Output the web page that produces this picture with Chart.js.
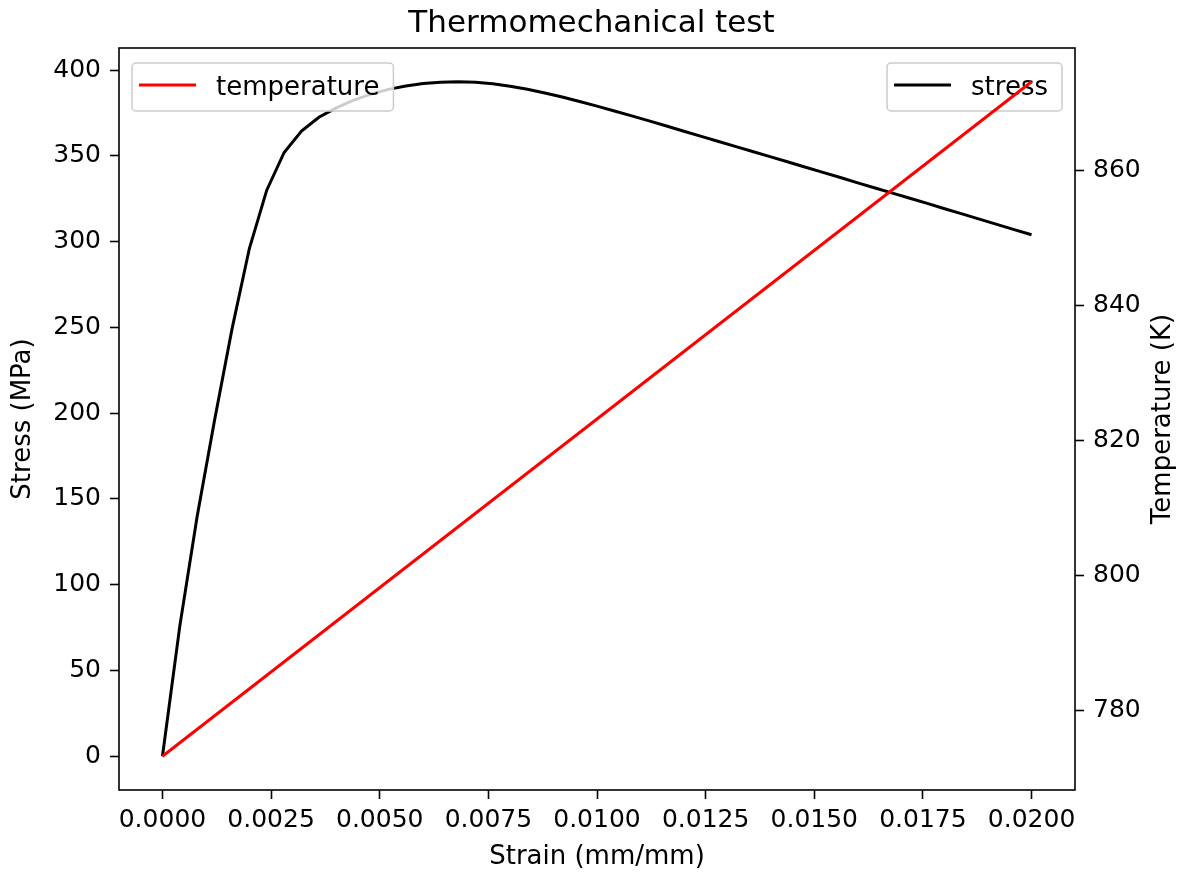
<!DOCTYPE html>
<html>
<head>
<meta charset="utf-8">
<title>Thermomechanical test</title>
<script src="https://cdn.jsdelivr.net/npm/chart.js@4.4.0/dist/chart.umd.min.js"></script>
<style>
  html, body { margin: 0; padding: 0; background: #fff; }
</style>
</head>
<body>
<canvas id="thermoChart" width="1183" height="875"></canvas>
<script>
// strain steps shared by the stress curve
const strain = [
  0.0000, 0.0004, 0.0008, 0.0012, 0.0016, 0.0020, 0.0024, 0.0028, 0.0032, 0.0036,
  0.0040, 0.0044, 0.0048, 0.0052, 0.0056, 0.0060, 0.0064, 0.0068, 0.0072, 0.0076,
  0.0080, 0.0084, 0.0088, 0.0092, 0.0096, 0.0100, 0.0104, 0.0108, 0.0112, 0.0116,
  0.0120, 0.0124, 0.0128, 0.0132, 0.0136, 0.0140, 0.0144, 0.0148, 0.0152, 0.0156,
  0.0160, 0.0164, 0.0168, 0.0172, 0.0176, 0.0180, 0.0184, 0.0188, 0.0192, 0.0196,
  0.0200
];
const stress = [
  0, 76, 140, 196, 249, 296, 330, 352, 364.5, 372.5,
  378, 382.5, 386, 388.8, 390.8, 392.2, 393, 393.2, 392.9, 392,
  390.6, 388.8, 386.7, 384.3, 381.7, 379, 376.2, 373.3, 370.4, 367.4,
  364.4, 361.4, 358.4, 355.4, 352.4, 349.4, 346.4, 343.4, 340.4, 337.4,
  334.3, 331.3, 328.3, 325.3, 322.3, 319.2, 316.2, 313.1, 310.1, 307.0,
  304.0
];
// temperature is a straight ramp, read at its two ends
const tempStrain = [0, 0.02];
const temperature = [773.15, 873.15];

const strainTicks = [0, 0.0025, 0.005, 0.0075, 0.01, 0.0125, 0.015, 0.0175, 0.02];
const stressTicks = [0, 50, 100, 150, 200, 250, 300, 350, 400];
const tempTicks = [780, 800, 820, 840, 860];

Chart.defaults.font.family = 'DejaVu Sans';
Chart.defaults.color = '#000';

const toPoints = (xs, ys) => xs.map((x, i) => ({ x: x, y: ys[i] }));

// matplotlib style legend box, one per axes
function drawLegend(chart, idx, side) {
  const { ctx, chartArea } = chart;
  const ds = chart.data.datasets[idx];
  ctx.save();
  ctx.font = '26px "DejaVu Sans"';
  const w = ctx.measureText(ds.label).width + 98;
  const h = 48;
  const left = side === 'left' ? chartArea.left + 13 : chartArea.right - 13 - w;
  const top = chartArea.top + 15;
  ctx.beginPath();
  ctx.roundRect(left, top, w, h, 4);
  ctx.fillStyle = 'rgba(255,255,255,0.8)';
  ctx.fill();
  ctx.lineWidth = 1.5;
  ctx.strokeStyle = '#cccccc';
  ctx.stroke();
  ctx.beginPath();
  ctx.moveTo(left + 7, top + 22);
  ctx.lineTo(left + 64, top + 22);
  ctx.lineWidth = 3;
  ctx.strokeStyle = ds.borderColor;
  ctx.stroke();
  ctx.fillStyle = '#000';
  ctx.textBaseline = 'alphabetic';
  ctx.textAlign = 'left';
  ctx.fillText(ds.label, left + 84, top + 32);
  ctx.restore();
}

const mplLegends = {
  id: 'mplLegends',
  afterDatasetDraw(chart, args) {
    // stress legend sits under the twin axes' red line
    if (args.index === 1) drawLegend(chart, 1, 'right');
  },
  afterDatasetsDraw(chart) {
    const { ctx, chartArea } = chart;
    ctx.save();
    ctx.lineWidth = 1.6;
    ctx.strokeStyle = '#000';
    ctx.strokeRect(chartArea.left, chartArea.top, chartArea.right - chartArea.left, chartArea.bottom - chartArea.top);
    ctx.restore();
    drawLegend(chart, 0, 'left');
  },
  afterDraw(chart) {
    // right axis label reads bottom-to-top like matplotlib's twinx label
    const { ctx, chartArea } = chart;
    const y2 = chart.scales.y2;
    ctx.save();
    ctx.translate(y2.right - 20, (chartArea.top + chartArea.bottom) / 2);
    ctx.rotate(-Math.PI / 2);
    ctx.font = '26px "DejaVu Sans"';
    ctx.fillStyle = '#000';
    ctx.textAlign = 'center';
    ctx.textBaseline = 'middle';
    ctx.fillText('Temperature (K)', 0, 0);
    ctx.restore();
  }
};

const tickGrid = { drawOnChartArea: false, tickLength: 9, tickWidth: 1.6, tickColor: '#000' };

const ctx = document.getElementById('thermoChart').getContext('2d');
const thermoChart = new Chart(ctx, {
  type: 'line',
  data: {
    datasets: [{
      label: 'temperature',
      data: toPoints(tempStrain, temperature),
      yAxisID: 'y2',
      borderColor: '#ff0000',
      borderWidth: 3,
      pointRadius: 0,
      tension: 0,
      order: 0
    }, {
      label: 'stress',
      data: toPoints(strain, stress),
      yAxisID: 'y',
      borderColor: '#000000',
      borderWidth: 3,
      pointRadius: 0,
      tension: 0,
      order: 1
    }]
  },
  options: {
    responsive: false,
    animation: false,
    events: [],
    layout: { padding: 0 },
    plugins: {
      legend: { display: false },
      tooltip: { enabled: false },
      title: {
        display: true,
        text: 'Thermomechanical test',
        color: '#000',
        font: { size: 31, weight: 'normal' },
        padding: { top: 5, bottom: 5.8 }
      }
    },
    scales: {
      x: {
        type: 'linear',
        position: 'bottom',
        min: -0.001,
        max: 0.021,
        afterBuildTicks: s => { s.ticks = strainTicks.map(v => ({ value: v })); },
        afterFit: s => { s.height = 85; },
        ticks: { font: { size: 25 }, padding: 6, maxRotation: 0, autoSkip: false, callback: v => v.toFixed(4) },
        grid: tickGrid,
        border: { display: false },
        title: { display: true, text: 'Strain (mm/mm)', font: { size: 26 }, padding: { top: 0, bottom: 2 } }
      },
      y: {
        type: 'linear',
        position: 'left',
        min: -19.7,
        max: 412.9,
        afterBuildTicks: s => { s.ticks = stressTicks.map(v => ({ value: v })); },
        afterFit: s => { s.width = 119; },
        ticks: { font: { size: 25 }, padding: 9, autoSkip: false, callback: v => String(v) },
        grid: tickGrid,
        border: { display: false },
        title: { display: true, text: 'Stress (MPa)', font: { size: 26 }, padding: { top: 8, bottom: 0 } }
      },
      y2: {
        type: 'linear',
        position: 'right',
        min: 768.15,
        max: 878.15,
        afterBuildTicks: s => { s.ticks = tempTicks.map(v => ({ value: v })); },
        afterFit: s => { s.width = 108; },
        ticks: { font: { size: 25 }, padding: 9, autoSkip: false, callback: v => String(v) },
        grid: tickGrid,
        border: { display: false },
        title: { display: false }
      }
    }
  },
  plugins: [mplLegends]
});
</script>
</body>
</html>
